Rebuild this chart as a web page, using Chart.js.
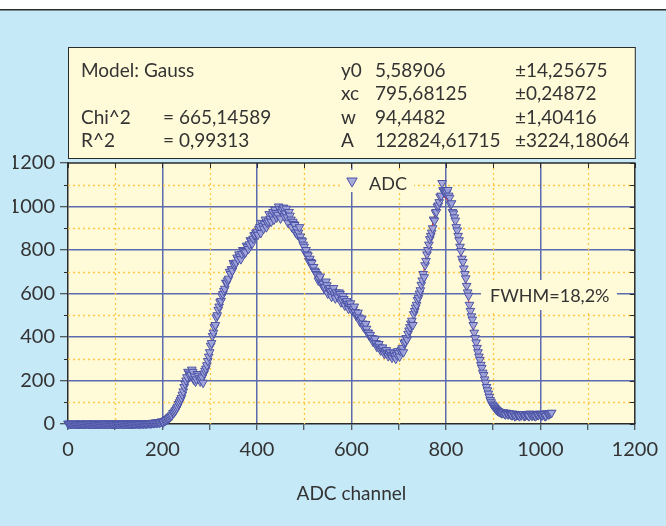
<!DOCTYPE html>
<html>
<head>
<meta charset="UTF-8">
<title>ADC spectrum</title>
<script src="https://cdn.jsdelivr.net/npm/chart.js@4.4.0/dist/chart.umd.min.js"></script>
<style>
  html, body {
    margin: 0;
    padding: 0;
    background: #c6e9f8;
  }
  #chart_field {
    position: relative;
    width: 666px;
    height: 526px;
  }
</style>
</head>
<body>
<div id="chart_field">
  <canvas id="adcChart"></canvas>
</div>
<script>

// ADC spectrum: counts on even channels 0, 4, 8 ... and 2, 6, 10 ...
const CHANNEL_STEP = 4;
const adcCountsA = [
  2, 1, 0, 1, 2, 0, 1, 1, 0, 2,
  1, 0, 1, 2, 1, 0, 1, 1, 2, 0,
  1, 2, 1, 1, 0, 2, 1, 1, 2, 1,
  0, 2, 1, 2, 1, 1, 2, 2, 1, 3,
  2, 3, 3, 4, 3, 5, 6, 5, 8, 9,
  10, 14, 18, 24, 32, 40, 52, 64, 80, 100,
  120, 150, 185, 215, 232, 226, 240, 218, 205, 222,
  196, 214, 232, 255, 290, 330, 372, 420, 455, 500,
  540, 566, 598, 622, 648, 668, 690, 705, 728, 742,
  756, 770, 782, 795, 790, 815, 826, 840, 852, 870,
  884, 896, 878, 910, 920, 905, 932, 944, 958, 940,
  970, 962, 988, 975, 995, 968, 950, 975, 940, 930,
  915, 896, 880, 862, 840, 815, 800, 775, 760, 740,
  722, 700, 684, 668, 650, 645, 630, 638, 618, 610,
  612, 596, 605, 582, 598, 570, 575, 560, 552, 545,
  538, 528, 515, 500, 490, 478, 462, 450, 438, 420,
  410, 395, 384, 372, 360, 352, 345, 336, 330, 326,
  322, 315, 318, 312, 318, 326, 335, 350, 372, 395,
  415, 445, 475, 505, 535, 570, 600, 640, 690, 730,
  780, 825, 865, 900, 935, 975, 1005, 1045, 1108, 1070,
  1060, 1076, 1040, 1015, 968, 935, 890, 845, 795, 745,
  690, 635, 590, 520, 480, 420, 375, 330, 295, 258,
  225, 190, 155, 125, 100, 85, 74, 64, 58, 54,
  50, 48, 52, 44, 46, 40, 45, 38, 42, 36,
  40, 44, 38, 42, 36, 45, 40, 38, 44, 41,
  46, 40, 44, 38, 45, 48, 52
];
const adcCountsB = [
  1, 0, 2, 1, 0, 1, 2, 1, 0, 1,
  2, 1, 0, 1, 1, 2, 0, 1, 1, 2,
  0, 1, 2, 1, 2, 1, 0, 2, 1, 1,
  2, 1, 1, 0, 2, 1, 3, 1, 2, 2,
  3, 2, 4, 3, 5, 4, 7, 8, 6, 12,
  8, 16, 22, 28, 36, 50, 58, 72, 92, 110,
  135, 170, 200, 240, 220, 250, 205, 195, 230, 210,
  205, 190, 245, 270, 310, 360, 405, 445, 490, 525,
  560, 590, 612, 650, 660, 700, 712, 740, 735, 765,
  780, 758, 800, 785, 820, 805, 845, 830, 868, 880,
  870, 905, 925, 898, 940, 925, 965, 930, 975, 985,
  950, 1000, 945, 985, 955, 990, 925, 958, 905, 920,
  880, 870, 905, 845, 825, 790, 780, 750, 745, 720,
  705, 690, 660, 678, 640, 625, 655, 600, 625, 585,
  625, 578, 590, 605, 560, 588, 545, 565, 530, 555,
  520, 540, 498, 512, 470, 485, 445, 460, 420, 405,
  395, 378, 392, 355, 368, 338, 352, 322, 340, 312,
  330, 305, 325, 300, 335, 310, 342, 330, 378, 388,
  430, 462, 455, 520, 548, 580, 615, 660, 675, 750,
  800, 850, 880, 940, 972, 1000, 1020, 1050, 1075, 1065,
  1065, 1050, 1010, 975, 950, 905, 865, 815, 760, 715,
  670, 605, 548, 495, 455, 395, 350, 310, 272, 236,
  205, 170, 140, 110, 90, 80, 68, 60, 55, 50,
  54, 44, 48, 50, 42, 48, 36, 46, 40, 44,
  46, 36, 44, 40, 48, 38, 44, 36, 42, 48,
  40, 46, 36, 50, 44, 50
];

// Gauss fit (y0 = 5.589, xc = 795.68, w = 94.448, A = 122824.6)
const fitChannels = [
  740, 745, 750, 755, 760, 765, 770, 775, 780, 785,
  790, 795, 800, 805, 810, 815, 820, 825, 830, 835,
  840, 845, 850, 855, 860, 865, 870
];
const fitCounts = [
  523, 589, 655, 722, 786, 846, 901, 948, 988, 1017,
  1036, 1043, 1039, 1023, 997, 960, 914, 861, 802, 739,
  674, 607, 541, 477, 416, 359, 306
];

const fitStats = [
  ['Chi^2', '= 665,14589'],
  ['R^2', '= 0,99313']
];
const fitParams = [
  ['y0', '5,58906', '±14,25675'],
  ['xc', '795,68125', '±0,24872'],
  ['w', '94,4482', '±1,40416'],
  ['A', '122824,61715', '±3224,18064']
];

const MODEL_LABEL = 'Model: Gauss';
const SERIES_LABEL = 'ADC';
const FWHM_LABEL = 'FWHM=18,2%';
const X_TITLE = 'ADC channel';
const AXIS_MAX = 1200;

const FONT = 'Lato';
const TEXT_COLOR = '#333333';
const SKY = '#c6e9f8';
const PAPER = '#fffad8';
const MAJOR_GRID = '#5b6bae';
const MINOR_GRID = '#ffc845';
const MARKER_FILL = 'rgba(160,163,220,0.9)';
const MARKER_LINE = '#4b53a5';

const adcPoints = adcCountsA.map((v, i) => ({x: i * CHANNEL_STEP, y: v}))
  .concat(adcCountsB.map((v, i) => ({x: i * CHANNEL_STEP + 2, y: v})))
  .sort((p, q) => p.x - q.x);
const fitPoints = fitChannels.map((c, i) => ({x: c, y: fitCounts[i]}));

function isMajor(v) {
  return v % 200 === 0;
}

function downTriangle(ctx, x, y, r) {
  ctx.beginPath();
  ctx.moveTo(x - r * 0.866, y - r * 0.5);
  ctx.lineTo(x + r * 0.866, y - r * 0.5);
  ctx.lineTo(x, y + r);
  ctx.closePath();
  ctx.fillStyle = MARKER_FILL;
  ctx.fill();
  ctx.strokeStyle = MARKER_LINE;
  ctx.lineWidth = 1;
  ctx.stroke();
}

const decorPlugin = {
  id: 'decor',
  beforeDraw(chart) {
    const ctx = chart.ctx;
    const a = chart.chartArea;
    ctx.save();
    ctx.fillStyle = SKY;
    ctx.fillRect(0, 0, chart.width, chart.height);
    ctx.fillStyle = '#ffffff';
    ctx.fillRect(0, 0, chart.width, 9);
    ctx.fillStyle = '#2b2b2b';
    ctx.fillRect(0, 9, chart.width, 1.5);

    // fit results panel
    ctx.fillStyle = PAPER;
    ctx.fillRect(a.left, 47, a.right - a.left, 111);
    ctx.strokeStyle = '#2b2b2b';
    ctx.lineWidth = 1;
    ctx.strokeRect(a.left + 0.5, 47.5, a.right - a.left, 111);

    ctx.fillStyle = TEXT_COLOR;
    ctx.font = '19px ' + FONT;
    ctx.textBaseline = 'middle';
    ctx.textAlign = 'left';
    ctx.fillText(MODEL_LABEL, 81, 71);
    fitStats.forEach((row, i) => {
      ctx.fillText(row[0], 81, 118 + i * 23);
      ctx.fillText(row[1], 163, 118 + i * 23);
    });
    fitParams.forEach((row, i) => {
      const y = 71 + i * 23.3;
      ctx.fillText(row[0], 341, y);
      ctx.fillText(row[1], 375, y);
      ctx.fillText(row[2], 515, y);
    });

    // plot background
    ctx.fillStyle = PAPER;
    ctx.fillRect(a.left, a.top, a.right - a.left, a.bottom - a.top);
    ctx.restore();
  },
  beforeDatasetsDraw(chart) {
    const ctx = chart.ctx;
    const a = chart.chartArea;
    const xs = chart.scales.x;
    const ys = chart.scales.y;
    ctx.save();

    // dotted minor grid
    ctx.strokeStyle = MINOR_GRID;
    ctx.lineWidth = 1.3;
    ctx.setLineDash([2, 3]);
    for (let v = 100; v < AXIS_MAX; v += 200) {
      const px = Math.round(xs.getPixelForValue(v)) + 0.5;
      const py = Math.round(ys.getPixelForValue(v)) + 0.5;
      ctx.beginPath();
      ctx.moveTo(px, a.top);
      ctx.lineTo(px, a.bottom);
      ctx.moveTo(a.left, py);
      ctx.lineTo(a.right, py);
      ctx.stroke();
    }
    ctx.setLineDash([]);

    // short minor ticks on the left axis, mirrored ticks on top/right
    ctx.strokeStyle = '#2b2b2b';
    ctx.lineWidth = 1;
    ctx.beginPath();
    for (let v = 0; v <= AXIS_MAX; v += 100) {
      const px = Math.round(xs.getPixelForValue(v)) + 0.5;
      const py = Math.round(ys.getPixelForValue(v)) + 0.5;
      if (!isMajor(v)) {
        ctx.moveTo(a.left - 4, py);
        ctx.lineTo(a.left, py);
      }
      ctx.moveTo(a.right - 5, py);
      ctx.lineTo(a.right, py);
      ctx.moveTo(px, a.top);
      ctx.lineTo(px, a.top + 5);
    }
    ctx.stroke();
    ctx.lineWidth = 1.5;
    ctx.beginPath();
    ctx.moveTo(a.left, a.top);
    ctx.lineTo(a.right, a.top);
    ctx.lineTo(a.right, a.bottom);
    ctx.stroke();

    // legend
    ctx.fillStyle = PAPER;
    ctx.fillRect(342, 170, 72, 22);
    downTriangle(ctx, 352, 181, 6);
    ctx.fillStyle = TEXT_COLOR;
    ctx.font = '18px ' + FONT;
    ctx.textBaseline = 'middle';
    ctx.textAlign = 'left';
    ctx.fillText(SERIES_LABEL, 369, 184);

    // FWHM note
    ctx.fillStyle = PAPER;
    ctx.fillRect(481, 280, 136, 30);
    ctx.fillStyle = TEXT_COLOR;
    ctx.fillText(FWHM_LABEL, 490, 296);
    ctx.restore();
  }
};

const tickFont = {family: FONT, size: 20};

new Chart(document.getElementById('adcChart'), {
  type: 'scatter',
  data: {
    datasets: [{
      label: SERIES_LABEL,
      data: adcPoints,
      showLine: false,
      pointStyle: 'triangle',
      rotation: 180,
      pointRadius: 5,
      pointBackgroundColor: MARKER_FILL,
      pointBorderColor: MARKER_LINE,
      pointBorderWidth: 1,
      order: 0,
      clip: 6,
    }, {
      label: 'Gauss',
      data: fitPoints,
      showLine: true,
      borderColor: '#ff2a2a',
      borderWidth: 1.2,
      pointRadius: 0,
      tension: 0.3,
      order: 1,
    }]
  },
  options: {
    responsive: true,
    maintainAspectRatio: false,
    animation: false,
    devicePixelRatio: 1,
    layout: {
      padding: {left: 13, right: 29, top: 163, bottom: 21}
    },
    plugins: {
      legend: {display: false},
      tooltip: {enabled: false}
    },
    scales: {
      x: {
        type: 'linear',
        min: 0,
        max: AXIS_MAX,
        afterFit(scale) { scale.height = 81; },
        ticks: {
          stepSize: 100,
          autoSkip: false,
          maxRotation: 0,
          padding: 8,
          color: TEXT_COLOR,
          font: tickFont,
          callback: v => isMajor(v) ? String(v) : ''
        },
        grid: {
          color: c => (isMajor(c.tick.value) && c.tick.value > 0 && c.tick.value < AXIS_MAX) ? MAJOR_GRID : 'rgba(0,0,0,0)',
          lineWidth: 1.5,
          tickColor: '#2b2b2b',
          tickLength: 6,
          tickWidth: 1
        },
        border: {color: '#2b2b2b', width: 1.5},
        title: {
          display: true,
          text: X_TITLE,
          color: TEXT_COLOR,
          font: {family: FONT, size: 19},
          padding: {top: 20, bottom: 0}
        }
      },
      y: {
        type: 'linear',
        min: 0,
        max: AXIS_MAX,
        afterFit(scale) { scale.width = 55; },
        ticks: {
          stepSize: 100,
          autoSkip: false,
          padding: 5,
          color: TEXT_COLOR,
          font: tickFont,
          callback: v => isMajor(v) ? String(v) : ''
        },
        grid: {
          color: c => (isMajor(c.tick.value) && c.tick.value > 0 && c.tick.value < AXIS_MAX) ? MAJOR_GRID : 'rgba(0,0,0,0)',
          lineWidth: 1.5,
          tickColor: c => isMajor(c.tick.value) ? '#2b2b2b' : 'rgba(0,0,0,0)',
          tickLength: 8,
          tickWidth: 1
        },
        border: {color: '#2b2b2b', width: 1.5}
      }
    }
  },
  plugins: [decorPlugin]
});
</script>
</body>
</html>
